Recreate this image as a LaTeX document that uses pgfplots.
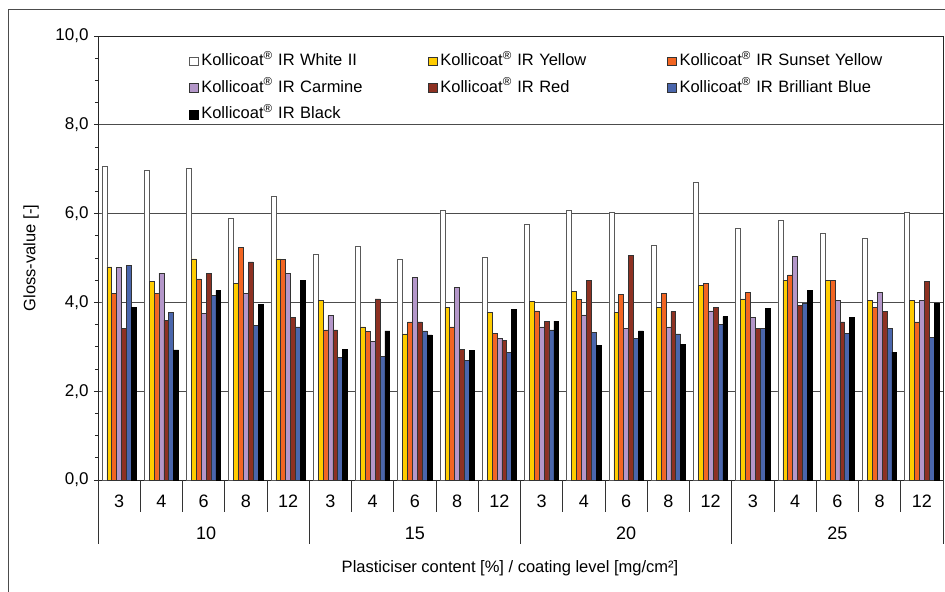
\documentclass[border=0pt]{standalone}
\usepackage{pgfplots}
\usepackage{pgfplotstable}
\pgfplotsset{compat=1.18}
\usepackage{fontspec}
\setmainfont{Liberation Sans}
\definecolor{cYel}{HTML}{FFCC00}
\definecolor{cOra}{HTML}{F26522}
\definecolor{cCar}{HTML}{B497C9}
\definecolor{cRed}{HTML}{8E3122}
\definecolor{cBlu}{HTML}{4A66AC}
\pgfplotstableread{
x  w     y     o     c     r     b     k
0  7.07  4.80  4.20  4.78  3.42  4.84  3.88
1  6.97  4.47  4.20  4.66  3.60  3.77  2.93
2  7.02  4.98  4.53  3.75  4.66  4.16  4.27
3  5.90  4.43  5.24  4.20  4.91  3.49  3.96
4  6.40  4.98  4.96  4.66  3.66  3.45  4.50
5  5.08  4.05  3.38  3.70  3.38  2.76  2.94
6  5.26  3.45  3.35  3.13  4.08  2.78  3.36
7  4.96  3.29  3.56  4.57  3.56  3.36  3.27
8  6.08  3.88  3.45  4.34  2.94  2.70  2.92
9  5.01  3.77  3.31  3.19  3.15  2.88  3.84
10 5.76  4.02  3.81  3.45  3.58  3.38  3.58
11 6.08  4.25  4.06  3.72  4.50  3.33  3.03
12 6.04  3.77  4.18  3.42  5.05  3.19  3.36
13 5.28  3.88  4.20  3.45  3.79  3.29  3.06
14 6.70  4.38  4.43  3.81  3.88  3.51  3.68
15 5.67  4.08  4.22  3.66  3.42  3.42  3.86
16 5.86  4.50  4.62  5.03  3.93  3.99  4.27
17 5.56  4.50  4.50  4.04  3.56  3.31  3.66
18 5.44  4.04  3.88  4.22  3.79  3.42  2.88
19 6.02  4.04  3.56  4.04  4.48  3.22  3.99
}\gloss
\begin{document}
\begin{tikzpicture}
\path[use as bounding box] (0bp,0bp) rectangle (945bp,592bp);
\draw[black!70, line width=1bp] (8bp,0bp) -- (8bp,582bp) -- (945bp,582bp);
\begin{axis}[
  at={(98bp,112bp)}, anchor=south west,
  width=845bp, height=444bp, scale only axis,
  xmin=-0.5, xmax=19.5, ymin=0, ymax=10,
  clip=false,
  ybar=0pt, bar width=4.9bp,
  font=\fontsize{16.5bp}{19bp}\selectfont,
  axis line style={black!85, line width=0.9bp},
  ymajorgrids, grid style={black!70, line width=0.9bp},
  ytick={0,2,4,6,8,10},
  yticklabels={{0,0},{2,0},{4,0},{6,0},{8,0},{10,0}},
  minor ytick={0.5,1,...,9.5},
  ytick pos=left, ytick align=outside,
  major tick length=4bp, minor tick length=3bp,
  tick style={black!85, line width=0.8bp},
  yticklabel style={font=\fontsize{17bp}{20bp}\selectfont, xshift=-2bp},
  xtick={0,...,19},
  xticklabels={3,4,6,8,12,3,4,6,8,12,3,4,6,8,12,3,4,6,8,12},
  xtick style={draw=none},
  xticklabel style={font=\fontsize{18bp}{21bp}\selectfont, anchor=center, yshift=-17bp},
  ylabel={Gloss-value [-]},
  ylabel style={at={(axis description cs:-0.0793,0.5)}, anchor=center},
  xlabel={Plasticiser content [\%] / coating level [mg/cm²]},
  xlabel style={at={(axis description cs:0.4876,-0.1982)}, anchor=center},
  legend columns=3,
  legend cell align=left,
  legend image code/.code={\draw[#1, line width=0.6bp] (0bp,-4.25bp) rectangle (8.5bp,4.25bp);},
  legend style={at={(axis description cs:0,1)}, anchor=north west,
    xshift=91.2bp, yshift=-17.5bp, draw=none, fill=none,
    inner sep=0pt, outer sep=0pt, row sep=11.2bp, column sep=0pt,
    nodes={text width=224bp, inner xsep=3bp, inner ysep=0pt, text height=12bp, text depth=3.5bp,
      font=\fontsize{16.5bp}{19bp}\selectfont}},
]
\addplot[fill=white, draw=black!65, line width=0.6bp] table[x=x, y=w] {\gloss};
\addplot[fill=cYel, draw=black!80, line width=0.6bp] table[x=x, y=y] {\gloss};
\addplot[fill=cOra, draw=black!80, line width=0.6bp] table[x=x, y=o] {\gloss};
\addplot[fill=cCar, draw=black!80, line width=0.6bp] table[x=x, y=c] {\gloss};
\addplot[fill=cRed, draw=black!80, line width=0.6bp] table[x=x, y=r] {\gloss};
\addplot[fill=cBlu, draw=black!80, line width=0.6bp] table[x=x, y=b] {\gloss};
\addplot[fill=black, draw=black, line width=0.6bp] table[x=x, y=k] {\gloss};
\legend{Kollicoat\textsuperscript{®} IR White II,
        Kollicoat\textsuperscript{®} IR Yellow,
        Kollicoat\textsuperscript{®} IR Sunset Yellow,
        Kollicoat\textsuperscript{®} IR Carmine,
        Kollicoat\textsuperscript{®} IR Red,
        Kollicoat\textsuperscript{®} IR Brilliant Blue,
        Kollicoat\textsuperscript{®} IR Black}
\pgfplotsinvokeforeach{0,0.05,0.1,0.15,0.2,0.25,0.3,0.35,0.4,0.45,0.5,0.55,0.6,0.65,0.7,0.75,0.8,0.85,0.9,0.95,1}{
  \draw[black!80, line width=0.8bp] (axis description cs:#1,0) -- (axis description cs:#1,-0.0714);
}
\pgfplotsinvokeforeach{0,0.25,0.5,0.75,1}{
  \draw[black!80, line width=0.8bp] (axis description cs:#1,0) -- (axis description cs:#1,-0.1441);
}
\node[anchor=center] at (axis description cs:0.128,-0.1194) {\fontsize{18bp}{21bp}\selectfont 10};
\node[anchor=center] at (axis description cs:0.375,-0.1194) {\fontsize{18bp}{21bp}\selectfont 15};
\node[anchor=center] at (axis description cs:0.625,-0.1194) {\fontsize{18bp}{21bp}\selectfont 20};
\node[anchor=center] at (axis description cs:0.875,-0.1194) {\fontsize{18bp}{21bp}\selectfont 25};
\end{axis}
\end{tikzpicture}
\end{document}
